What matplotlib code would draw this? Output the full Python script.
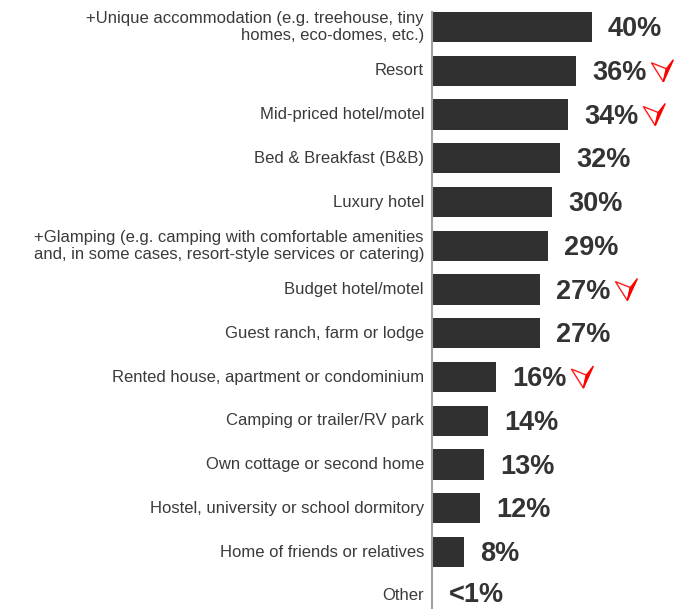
import matplotlib
matplotlib.use('Agg')
import matplotlib.pyplot as plt
from matplotlib.patches import Polygon

plt.rcParams['font.family'] = ['Liberation Sans', 'DejaVu Sans']

categories = [
    '+Unique accommodation (e.g. treehouse, tiny\nhomes, eco-domes, etc.)',
    'Resort',
    'Mid-priced hotel/motel',
    'Bed & Breakfast (B&B)',
    'Luxury hotel',
    '+Glamping (e.g. camping with comfortable amenities\nand, in some cases, resort-style services or catering)',
    'Budget hotel/motel',
    'Guest ranch, farm or lodge',
    'Rented house, apartment or condominium',
    'Camping or trailer/RV park',
    'Own cottage or second home',
    'Hostel, university or school dormitory',
    'Home of friends or relatives',
    'Other',
]
values = [40, 36, 34, 32, 30, 29, 27, 27, 16, 14, 13, 12, 8, 0.3]
value_labels = ['40%', '36%', '34%', '32%', '30%', '29%', '27%', '27%',
                '16%', '14%', '13%', '12%', '8%', '<1%']
# rows marked with a downward red arrow
arrow_down = [False, True, True, False, False, False, True, False,
              True, False, False, False, False, False]

W, H = 675, 609
fig = plt.figure(figsize=(W / 100, H / 100), dpi=100)
ax = fig.add_axes([432 / W, 0, 1 - 432 / W, 1])

rows = list(range(len(categories)))
ax.barh(rows, values, height=0.69, color='#303030', zorder=2)

ax.set_xlim(0, (W - 432) / 4.0)
ax.set_ylim(13.3, -0.617)

for s in ['top', 'right', 'bottom']:
    ax.spines[s].set_visible(False)
ax.spines['left'].set_color('#a0a0a0')
ax.spines['left'].set_linewidth(1.5)
ax.spines['left'].set_bounds(-0.35, 13.3)
ax.set_xticks([])
ax.set_yticks([])

value_texts = []
for i, (cat, v, lab) in enumerate(zip(categories, values, value_labels)):
    ax.annotate(cat, xy=(0, i), xytext=(-8, 0), textcoords='offset pixels',
                ha='right', va='center', fontsize=12, color='#3a3a3a',
                linespacing=1.15)
    dy = -2 if i < len(categories) - 1 else 1
    t = ax.annotate(lab, xy=(v, i), xytext=(16, dy), textcoords='offset pixels',
                    ha='left', va='center', fontsize=19.5, fontweight='bold',
                    color='#333333')
    value_texts.append(t)

fig.canvas.draw()
renderer = fig.canvas.get_renderer()
for t, flag in zip(value_texts, arrow_down):
    if not flag:
        continue
    bb = t.get_window_extent(renderer)
    x0 = bb.x1 + 5
    ytop = (bb.y0 + bb.y1) / 2 + 13
    # arrow outline in pixel units, y measured downward from the top
    tip = (12, 22)
    left = (0, 3)
    notch = (15, 9)
    right = (22, 0)

    def px(p):
        return (x0 + p[0], ytop - p[1])

    fig.patches.append(Polygon([px(left), px(notch), px(tip)], closed=True,
                               facecolor='white', edgecolor='#ff1a1a',
                               linewidth=1.0, transform=None, figure=fig))
    fig.patches.append(Polygon([px(notch), px(right), px(tip)], closed=True,
                               facecolor='#ff0000', edgecolor='#ff0000',
                               linewidth=1.0, transform=None, figure=fig))

fig.savefig('out.png', dpi=100)
